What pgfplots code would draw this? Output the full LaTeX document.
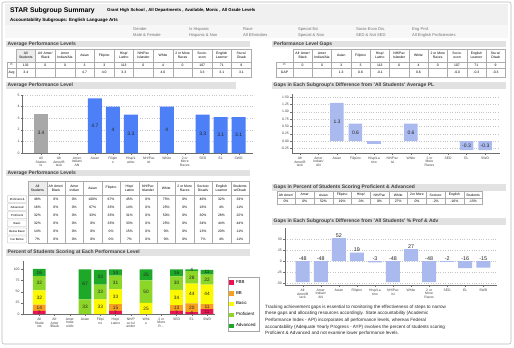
\documentclass[border=0pt]{standalone}
\usepackage{fontspec}
\setmainfont{Liberation Sans}
\usepackage{pgfplots}
\pgfplotsset{compat=1.18}
\definecolor{bandgray}{RGB}{226,226,226}
\definecolor{bluebar}{RGB}{77,127,247}
\definecolor{graybar}{RGB}{168,168,168}
\definecolor{lav}{RGB}{170,185,238}
\definecolor{cfbb}{RGB}{236,19,82}
\definecolor{cbb}{RGB}{248,160,30}
\definecolor{cbasic}{RGB}{252,248,0}
\definecolor{cprof}{RGB}{140,214,40}
\definecolor{cadv}{RGB}{30,168,40}
\definecolor{axgray}{RGB}{110,110,110}
\newcommand\fa{\fontsize{3.4}{3.9}\selectfont}
\newcommand\fb{\fontsize{5}{5.5}\selectfont}
\newcommand\fc{\fontsize{5}{5.5}\selectfont}
\newcommand\band[4]{\fill[bandgray] (#1,#2) rectangle (#3,{#2+6.5});
  \node[anchor=west, font=\fb\bfseries, text=black!75, inner sep=0] at ({#1+1.5},{#2+3.3}) {#4};}
\pgfplotsset{
  dashaxis/.style={scale only axis, anchor=south west,
    axis x line*=bottom, axis y line*=left,
    axis line style={axgray, line width=0.4bp},
    tick style={axgray, line width=0.3bp}, major tick length=2bp, tick align=outside,
    ticklabel style={font=\fa, text=black!75},
    xticklabel style={align=center, inner sep=0.5bp, yshift=-1bp},
    yticklabel style={inner sep=1bp},
    grid style={gray!45, dotted, line width=0.35bp},
    /pgf/number format/assume math mode=true,
    clip=false,
  }
}
\begin{document}
\begin{tikzpicture}
\path[use as bounding box] (0,0) rectangle (514bp,-348bp);
\begin{scope}[x=1bp,y=-1bp]
\fill[white] (0,0) rectangle (514,348);
\draw[gray!55, rounded corners=2, line width=0.6] (2,2) rectangle (511,344);
% title area
\fill[gray!12] (5,4) rectangle (508,38);
\fill[gray!6] (5,25) rectangle (508,38);
\node[anchor=base west, inner sep=0, font=\fontsize{6.8}{7}\selectfont\bfseries] at (10,12.5) {STAR Subgroup Summary};
\node[anchor=base west, inner sep=0, font=\fontsize{4.3}{5}\selectfont\bfseries] at (107,11.5) {Grant High School , All Departments , Available, Monic , All Grade Levels};
\node[anchor=base west, inner sep=0, font=\fontsize{4.5}{5}\selectfont\bfseries] at (10,21.5) {Accountability Subgroups: English Language Arts};
\foreach \xx/\ta/\tb in {133/Gender/Male \& Female, 189/Is Hispanic/Hispanic \& Non, 243/Race/All Ethnicities, 298/Special Ed./Special \& Non, 356/Socio-Econ Dis./SED \& Not SED, 412/Eng Prof./All English Proficiencies}{
  \node[anchor=base west, inner sep=0, font=\fontsize{4.1}{5}\selectfont, text=black!55] at (\xx,30.5) {\ta};
  \node[anchor=base west, inner sep=0, font=\fontsize{4.1}{5}\selectfont, text=black!55] at (\xx,36) {\tb};
}
% bands
\band{6}{40.5}{250}{Average Performance Levels}
\band{272}{40.5}{506}{Performance Level Gaps}
\band{6}{82}{236}{Average Performance Level}
\band{272}{82}{506}{Gaps in Each Subgroup's Difference from 'All Students' Average PL}
\band{6}{169.5}{250}{Average Performance Levels}
\band{272}{184}{506}{Gaps in Percent of Students Scoring Proficient \& Advanced}
\band{272}{218}{506}{Gaps in Each Subgroup's Difference from 'All Students' \% Prof \& Adv}
\band{6}{249}{250}{Percent of Students Scoring at Each Performance Level}
% ---------- Table 1
\fill[gray!15] (16,49) rectangle (35.6,62);
\foreach \h [count=\i from 0] in {{All\\Students},{Afr Amer/\\Black},{Amer\\Indian/Ala},Asian,Filipino,{Hisp/\\Latino},{NH/Pac\\Islander},White,{2 or More\\Races},{Socio-\\econ},{English\\Learner},{Stu w/\\Disab}}{
  \draw[gray!65, line width=0.3] ({16+19.6*\i},49) rectangle ({16+19.6*(\i+1)},62);
  \node[font=\fa, align=center, inner sep=0] at ({16+19.6*(\i+0.5)},55.5) {\h};
  \draw[gray!65, line width=0.3] ({16+19.6*\i},62) -- ({16+19.6*\i},77);
}
\draw[gray!65, line width=0.3] (7,62) rectangle (251.2,77) (7,68) -- (251.2,68) (16,62) -- (16,77);
\node[font=\fa] at (11.5,65) {n};
\node[font=\fa] at (11.5,72.5) {Avg};
\foreach \v [count=\i from 0] in {133,0,0,3,3,113,0,4,0,107,71,9}{
  \node[font=\fa, inner sep=0] at ({16+19.6*(\i+0.5)},65) {\v};}
\foreach \v [count=\i from 0] in {3.4,,,4.7,4.0,3.3,,4.0,,3.3,3.1,3.1}{
  \node[font=\fa, inner sep=0] at ({16+19.6*(\i+0.5)},72.5) {\v};}
% ---------- Table 3 (gaps)
\foreach \h [count=\i from 0] in {{Afr Amer/\\Black},{Amer\\Indian/Ala},Asian,Filipino,{Hisp/\\Latino},{NH/Pac\\Islander},White,{2 or More\\Races},{Socio-\\econ},{English\\Learner},{Stu w/\\Disab}}{
  \draw[gray!65, line width=0.3] ({293+19.3*\i},49) rectangle ({293+19.3*(\i+1)},62);
  \node[font=\fa, align=center, inner sep=0] at ({293+19.3*(\i+0.5)},55.5) {\h};
  \draw[gray!65, line width=0.3] ({293+19.3*\i},62) -- ({293+19.3*\i},77);
}
\draw[gray!65, line width=0.3] (276,62) rectangle (505.3,77) (276,68) -- (505.3,68) (293,62) -- (293,77);
\node[font=\fa] at (284.5,65) {n};
\node[font=\fa] at (284.5,72.5) {GAP};
\foreach \v [count=\i from 0] in {0,0,3,3,113,0,4,0,107,71,9}{
  \node[font=\fa, inner sep=0] at ({293+19.3*(\i+0.5)},65) {\v};}
\foreach \v [count=\i from 0] in {,,1.3,0.6,-0.1,,0.6,,-0.0,-0.3,-0.3}{
  \node[font=\fa, inner sep=0] at ({293+19.3*(\i+0.5)},72.5) {\v};}
% ---------- Table 2 (percent levels)
\fill[gray!15] (28.3,181) rectangle (46.7,195);
\foreach \h [count=\i from 0] in {{All\\Students},{Afr Amer/\\Black},{Amer\\Indian},Asian,Filipino,{Hisp/\\Latino},{NH/Pac\\Islander},White,{2 or More\\Races},{Socioec\\Disadv},{English\\Learner},{Students\\w/Disab}}{
  \draw[gray!65, line width=0.3] ({28.3+18.4*\i},181) rectangle ({28.3+18.4*(\i+1)},195);
  \node[font=\fa, align=center, inner sep=0] at ({28.3+18.4*(\i+0.5)},188) {\h};
  \draw[gray!65, line width=0.3] ({28.3+18.4*\i},195) -- ({28.3+18.4*\i},243.6);
}
\draw[gray!65, line width=0.3] (249.1,195) -- (249.1,243.6) (28.3,243.6) -- (249.1,243.6);
\foreach \r [count=\j from 0] in {Proficient \&,Advanced,Proficient,Basic,Below Basic,Far Below}{
  \draw[gray!65, line width=0.3, rounded corners=0.6] (7.5,{195.6+8.1*\j}) rectangle (26.8,{202.5+8.1*\j});
  \node[font=\fontsize{2.9}{3}\selectfont, inner sep=0] at (17.15,{199.05+8.1*\j}) {\r};
}
\foreach \rowv [count=\j from 0] in {
 {48,0,0,100,67,45,0,75,0,46,32,33},
 {16,0,0,67,33,14,0,25,0,16,4,11},
 {32,0,0,33,33,31,0,50,0,30,28,22},
 {32,0,0,0,33,33,0,25,0,34,44,44},
 {14,0,0,0,0,15,0,0,0,13,20,11},
 {7,0,0,0,0,7,0,0,0,7,4,11}}{
  \foreach \v [count=\i from 0] in \rowv {
    \node[font=\fa, inner sep=0] at ({28.3+18.4*(\i+0.5)},{199.05+8.1*\j}) {\v\%};}
}
% ---------- Table 4 (gap percent)
\foreach \h [count=\i from 0] in {Afr Amer/,Amer,Asian,Filipino,Hisp/,NH/Pac,White,2or More,Socioec,English,Students}{
  \draw[gray!65, line width=0.3] ({276.7+18.7*\i},191.5) rectangle ({276.7+18.7*(\i+1)},204);
  \draw[gray!65, line width=0.3] ({276.7+18.7*\i},198) -- ({276.7+18.7*(\i+1)},198);
  \node[font=\fa, inner sep=0] at ({276.7+18.7*(\i+0.5)},194.8) {\h};
}
\foreach \v [count=\i from 0] in {0,0,52,19,-3,0,27,0,-2,-16,-15}{
  \node[font=\fa, inner sep=0] at ({276.7+18.7*(\i+0.5)},201) {\v\%};}
% ---------- text
\node[anchor=north west, inner sep=0, align=left, font=\fontsize{4.6}{6.75}\selectfont, text=black!85] at (265,304.5) {Tracking achievement gaps is essential to monitoring the effectiveness of steps to narrow\\these gaps and allocating resources accordingly. State accountability (Academic\\Performance Index - API) incorporates all performance levels, whereas Federal\\accountability (Adequate Yearly Progress - AYP) involves the percent of students scoring\\Proficient \& Advanced and not examine lower performance levels.};
\end{scope}

% ---------- Chart 1: Average Performance Level
\begin{axis}[dashaxis, at={(22.7bp,-153bp)}, width=230bp, height=58bp,
 xmin=-1.02, xmax=11.78, ymin=0, ymax=5, ytick={0,1,2,3,4,5}, ymajorgrids,
 xtick={0,...,11},
 xticklabels={{All\\Studen\\ts},{Afr\\Amer/B\\lack},{Amer\\Indian/\\AN},Asian,{Filipin\\o},{Hisp/L\\atino},{NH/Pac\\isl},White,{2 or\\More\\Races},SED,EL,SWD},
 ybar, bar width=14bp,
 visualization depends on=y \as \rawy,
 nodes near coords,
 every node near coord/.append style={font=\fc, text=black!85, anchor=center, shift={(axis direction cs:0,-\rawy/2)}}]
\addplot[fill=graybar, draw=none, bar shift=0pt] coordinates {(0,3.4)};
\addplot[fill=bluebar, draw=none, bar shift=0pt] coordinates {(3,4.7) (4,4.0) (5,3.3) (7,4.0) (9,3.3) (10,3.1) (11,3.1)};
\end{axis}

% ---------- Chart 2: gaps average PL
\begin{axis}[dashaxis, at={(292bp,-153bp)}, width=208bp, height=59bp,
 xmin=-0.43, xmax=10.81, ymin=-0.4, ymax=1.6,
 ytick={-0.25,0,0.25,0.5,0.75,1,1.25,1.5}, ymajorgrids,
 yticklabel style={/pgf/number format/.cd, fixed, fixed zerofill, precision=2},
 xtick={0,...,10},
 xticklabels={{Afr\\Amer/B\\lack},{Amer\\Indian/\\AN},Asian,Filipino,{Hisp/La\\tino},{NH/Pac\\isl},White,{2 or\\More\\Races},SED,EL,SWD},
 ybar, bar width=13.5bp,
 visualization depends on=y \as \rawy,
 every node near coord/.append style={font=\fc, text=black!85, anchor=center, shift={(axis direction cs:0,-\rawy/2)}}]
\addplot[fill=lav, draw=none, bar shift=0pt, nodes near coords, point meta=explicit symbolic] coordinates {(2,1.3)[1.3] (3,0.6)[0.6] (6,0.6)[0.6] (9,-0.3)[-0.3] (10,-0.3)[-0.3]};
\addplot[fill=lav, draw=none, bar shift=0pt] coordinates {(4,-0.1)};
\end{axis}

% ---------- Chart 3: gaps % prof & adv
\begin{axis}[dashaxis, at={(285bp,-285bp)}, width=212bp, height=57bp,
 xmin=-0.98, xmax=10.76, ymin=-54.5, ymax=75,
 ytick={-50,-25,0,25,50}, ymajorgrids,
 xtick={0,...,10},
 xticklabels={{Afr\\Amer/B\\lack},{Amer\\Indian/\\AN},Asian,Filipino,{Hisp/La\\tino},{NH/Pac\\isl},White,{2 or\\More\\Races},SED,EL,SWD}]
\addplot[ybar, bar width=14bp, bar shift=0pt, fill=lav, draw=none] coordinates {(0,-48) (1,-48) (2,52) (3,19) (4,-3) (5,-48) (6,27) (7,-48) (8,-2) (9,-16) (10,-15)};
\addplot[draw=none, mark=none, nodes near coords, point meta=explicit symbolic,
 every node near coord/.append style={anchor=south, font=\fontsize{5.4}{6}\selectfont, text=black!85, inner sep=0.5bp}]
 coordinates {(0,0)[-48] (1,0)[-48] (2,52)[52] (3,19)[19] (4,0)[-3] (5,0)[-48] (6,27)[27] (7,0)[-48] (8,0)[-2] (9,0)[-16] (10,0)[-15]};
\end{axis}

% ---------- Chart 4: stacked percent
\begin{axis}[dashaxis, at={(22.7bp,-314bp)}, width=192.3bp, height=53bp,
 xmin=-1.09, xmax=11.52, ymin=0, ymax=118.6,
 ytick={0,25,50,75,100},
 xtick={0,...,11},
 xticklabels={{All\\Stude\\nts},{Afr\\Amer\\/Black},{Amer\\India\\n/AN},Asian,{Filipi\\no},{Hisp/\\Latino},{NH/P\\ac Isl\\ander},{Whit\\e},{2 or\\More\\R\ldots},SED,EL,SWD},
 ybar stacked, bar width=12.7bp,
 point meta=rawy, nodes near coords,
 every node near coord/.append style={font=\fontsize{4.8}{5}\selectfont, text=black!85, inner sep=0.4bp},
 legend style={at={(rel axis cs:1.068,0.698)}, anchor=north west, draw=gray!70, fill=white,
   font=\fontsize{4.4}{5}\selectfont, inner sep=1.2bp, row sep=2.2bp, legend cell align=left},
 legend image code/.code={\fill[#1] (0bp,-2.2bp) rectangle (4.6bp,2.2bp);}]
\addplot[fill=cfbb, draw=none] coordinates {(0,7) (1,0) (2,0) (3,0) (4,0) (5,7) (6,0) (7,0) (8,0) (9,7) (10,4) (11,11)};
\addplot[fill=cbb, draw=none] coordinates {(0,14) (1,0) (2,0) (3,0) (4,0) (5,15) (6,0) (7,0) (8,0) (9,13) (10,20) (11,11)};
\addplot[fill=cbasic, draw=none] coordinates {(0,32) (1,0) (2,0) (3,0) (4,33) (5,33) (6,0) (7,25) (8,0) (9,34) (10,44) (11,44)};
\addplot[fill=cprof, draw=none] coordinates {(0,32) (1,0) (2,0) (3,33) (4,33) (5,31) (6,0) (7,50) (8,0) (9,30) (10,28) (11,22)};
\addplot[fill=cadv, draw=none] coordinates {(0,16) (1,0) (2,0) (3,67) (4,33) (5,14) (6,0) (7,25) (8,0) (9,16) (10,4) (11,11)};
\legend{FBB,BB,Basic,Proficient,Advanced}
\end{axis}
\end{tikzpicture}
\end{document}
